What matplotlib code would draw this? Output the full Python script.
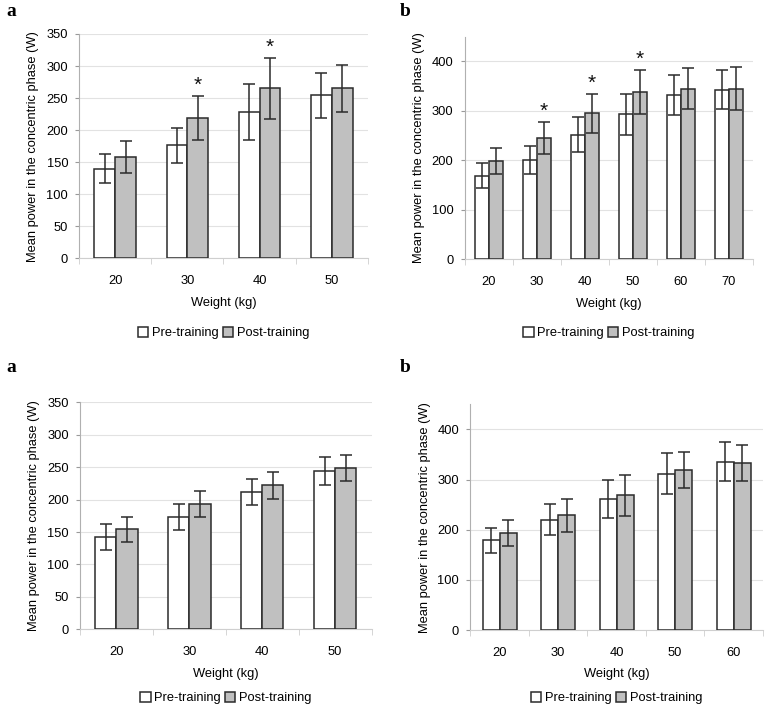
import numpy as np
import matplotlib.pyplot as plt

plt.rcParams['font.family'] = ['Liberation Sans', 'DejaVu Sans']

# top-left panel (a)
a1_weights = ['20', '30', '40', '50']
a1_pre = [140, 176, 228, 254]
a1_pre_sd = [23, 27, 44, 35]
a1_post = [158, 219, 265, 265]
a1_post_sd = [25, 34, 47, 37]
a1_sig = [False, True, True, False]

# top-right panel (b)
b1_weights = ['20', '30', '40', '50', '60', '70']
b1_pre = [169, 200, 252, 293, 332, 343]
b1_pre_sd = [25, 28, 36, 42, 40, 40]
b1_post = [198, 245, 295, 338, 345, 345]
b1_post_sd = [26, 32, 39, 45, 42, 43]
b1_sig = [False, True, True, True, False, False]

# bottom-left panel (a)
a2_weights = ['20', '30', '40', '50']
a2_pre = [143, 173, 212, 244]
a2_pre_sd = [20, 20, 20, 21]
a2_post = [154, 193, 222, 249]
a2_post_sd = [19, 20, 21, 20]

# bottom-right panel (b)
b2_weights = ['20', '30', '40', '50', '60']
b2_pre = [179, 220, 262, 312, 336]
b2_pre_sd = [25, 31, 38, 41, 38]
b2_post = [193, 229, 269, 319, 333]
b2_post_sd = [26, 33, 41, 36, 36]

edge = '#2b2b2b'
post_col = '#c0c0c0'
fs = 9.3


def panel(ax, cats, pre, pre_sd, post, post_sd, ymax, ytop, ystep, leg_y, sig=None):
    x = np.arange(len(cats))
    w = 0.29
    ekw = dict(ecolor=edge, elinewidth=1.1, capsize=4.5, capthick=1.1)
    ax.bar(x - w / 2, pre, w, color='white', edgecolor=edge, linewidth=1.1,
           yerr=pre_sd, error_kw=ekw, label='Pre-training', zorder=3)
    ax.bar(x + w / 2, post, w, color=post_col, edgecolor=edge, linewidth=1.1,
           yerr=post_sd, error_kw=ekw, label='Post-training', zorder=3)
    if sig:
        for i, s in enumerate(sig):
            if s:
                ax.text(x[i] + w / 2, post[i] + post_sd[i] + ymax * 0.005, '*',
                        ha='center', va='bottom', fontsize=15, color='#111111')
    ax.set_xlim(-0.5, len(cats) - 0.5)
    ax.set_ylim(0, ymax)
    ax.set_yticks(np.arange(0, ytop + 1, ystep))
    ax.set_xticks(x)
    ax.set_xticklabels(cats)
    ax.set_xticks(np.arange(-0.5, len(cats)), minor=True)
    ax.tick_params(axis='x', which='major', length=0, pad=12, labelsize=fs)
    ax.tick_params(axis='x', which='minor', length=4, color='#cfcfcf')
    ax.tick_params(axis='y', length=3, color='#9a9a9a', pad=5, labelsize=fs)
    ax.yaxis.grid(True, color='#e2e2e2', linewidth=0.8, zorder=0)
    ax.set_axisbelow(True)
    for s in ['top', 'right']:
        ax.spines[s].set_visible(False)
    ax.spines['left'].set_color('#b0b0b0')
    ax.spines['bottom'].set_color('#cfcfcf')
    ax.set_xlabel('Weight (kg)', fontsize=fs, labelpad=7)
    ax.set_ylabel('Mean power in the concentric phase (W)', fontsize=fs, labelpad=5)
    pos = ax.get_position()
    ax.legend(loc='center', bbox_to_anchor=((pos.x0 + pos.x1) / 2, leg_y),
              bbox_transform=ax.figure.transFigure, ncol=2, frameon=False,
              fontsize=fs, handlelength=0.8, handleheight=0.8, handletextpad=0.3,
              columnspacing=0.3, borderpad=0)


fig = plt.figure(figsize=(7.66, 7.09), dpi=100)
ax1 = fig.add_axes([0.1035, 0.6357, 0.3765, 0.3164])
ax2 = fig.add_axes([0.6066, 0.6343, 0.3764, 0.3140])
ax3 = fig.add_axes([0.1044, 0.1124, 0.3808, 0.3202])
ax4 = fig.add_axes([0.6140, 0.1114, 0.3821, 0.3183])

panel(ax1, a1_weights, a1_pre, a1_pre_sd, a1_post, a1_post_sd, 350, 350, 50, 1 - 333 / 709, a1_sig)
panel(ax2, b1_weights, b1_pre, b1_pre_sd, b1_post, b1_post_sd, 450, 400, 100, 1 - 333 / 709, b1_sig)
panel(ax3, a2_weights, a2_pre, a2_pre_sd, a2_post, a2_post_sd, 350, 350, 50, 1 - 698 / 709)
panel(ax4, b2_weights, b2_pre, b2_pre_sd, b2_post, b2_post_sd, 450, 400, 100, 1 - 698 / 709)

for lab, px, py in [('a', 6, 12), ('b', 400, 12), ('a', 6, 368), ('b', 400, 368)]:
    fig.text(px / 766, 1 - py / 709, lab, fontsize=14, fontweight='bold',
             family='Liberation Serif', ha='left', va='center')

fig.savefig('out.png', dpi=100)
